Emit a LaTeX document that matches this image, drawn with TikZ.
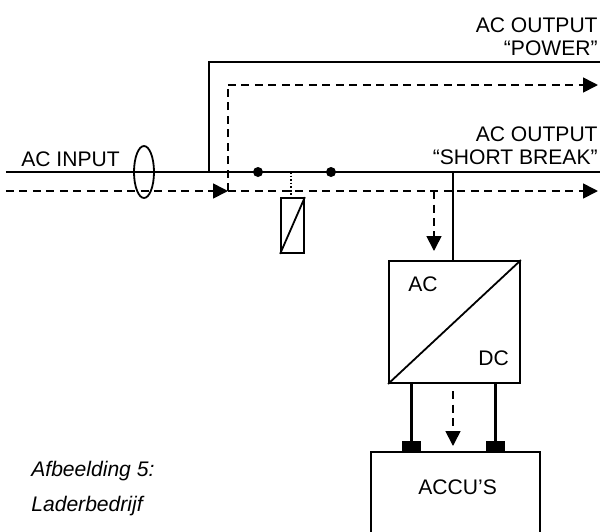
\documentclass[tikz,border=0pt]{standalone}
\usepackage{fontspec}
\setmainfont{Liberation Sans}
\usetikzlibrary{arrows.meta,shapes.geometric}
\tikzset{
  wire/.style={line width=0.042cm},
  thinwire/.style={line width=0.036cm},
  flow/.style={line width=0.034cm,dash pattern=on 0.16cm off 0.11cm,-{Triangle[length=0.3cm,width=0.3cm]}},
  blockbox/.style={draw,thinwire,rectangle,inner sep=0pt},
  terminal/.style={fill=black,rectangle,inner sep=0pt,minimum width=0.38cm,minimum height=0.22cm},
  dot/.style={fill=black,circle,inner sep=0pt,minimum size=0.2cm},
  lbl/.style={font=\fontsize{12}{14}\selectfont,inner sep=0pt}
}
\begin{document}
\begin{tikzpicture}[x=0.02cm,y=-0.02cm]
\useasboundingbox (0,0) rectangle (600,532);
% main lines
\coordinate (inA)at(6,172);
\coordinate (outA)at(600,172);
\coordinate (tapA)at(209,172);
\coordinate (topA)at(209,62);
\coordinate (powerA)at(600,62);
\coordinate (tapB)at(453,172);
\coordinate (inB)at(6,191);
\coordinate (midB)at(228,191);
\coordinate (topB)at(228,85);
\coordinate (powerB)at(598,85);
\coordinate (outB)at(598,191);
\coordinate (tapC)at(434,191);
\draw[wire] (inA) -- (outA);
\draw[wire] (tapA) -- (topA) -- (powerA);
\draw[flow] (inB) -- (midB);
\draw[flow,-] (midB) -- (topB);
\draw[flow] (topB) -- (powerB);
\draw[flow] (midB) -- (outB);
% current transformer
\node[draw,ellipse,thinwire,minimum width=0.4cm,minimum height=1.04cm,inner sep=0pt] (ct)at(144,172){};
% contacts and relay
\node[dot] (c1)at(258,172){};
\node[dot] (c2)at(331,172){};
\node[blockbox,minimum width=0.46cm,minimum height=1.1cm] (relay)at(292.5,225.5){};
\coordinate (coil)at(291,172);
\draw[thinwire,densely dotted] (coil) -- (coil|-relay.north);
\draw[thinwire] (relay.south west) -- (relay.north east);
% charger
\node[blockbox,minimum width=2.62cm,minimum height=2.44cm] (conv)at(454.5,322){};
\draw[thinwire] (conv.south west) -- (conv.north east);
\draw[wire] (tapB) -- (tapB|-conv.north);
\coordinate (convIn)at(434,251);
\draw[flow] (tapC) -- (convIn);
\node[lbl,anchor=base west] (acT)at(408,291){AC};
\node[lbl,anchor=base west] (dcT)at(478,365){DC};
% batteries
\node[terminal] (t1)at(411.5,446.5){};
\node[terminal] (t2)at(495.5,446.5){};
\draw[wire] (t1|-conv.south) -- (t1);
\draw[wire] (t2|-conv.south) -- (t2);
\coordinate (accuL)at(371,532);
\coordinate (accuR)at(540,532);
\coordinate (accuT)at(371,452);
\coordinate (flowS)at(453,391);
\coordinate (flowE)at(453,446);
\draw[thinwire] (accuL) -- (accuT) -| (accuR);
\draw[flow] (flowS) -- (flowE);
\node[lbl,anchor=base west] (accu)at(418,494){ACCU’S};
% labels
\node[lbl,anchor=base west] (acin)at(21,166){AC INPUT};
\node[lbl,anchor=base east] (o1)at(598,32){AC OUTPUT};
\node[lbl,anchor=base east] (o2)at(598,55){“POWER”};
\node[lbl,anchor=base east] (o3)at(598,141){AC OUTPUT};
\node[lbl,anchor=base east] (o4)at(598,164){“SHORT BREAK”};
\node[lbl,anchor=base west,font=\fontsize{12}{14}\selectfont\itshape] (cap1)at(31,476){Afbeelding 5:};
\node[lbl,anchor=base west,font=\fontsize{12}{14}\selectfont\itshape] (cap2)at(31,511){Laderbedrijf};
\end{tikzpicture}
\end{document}
